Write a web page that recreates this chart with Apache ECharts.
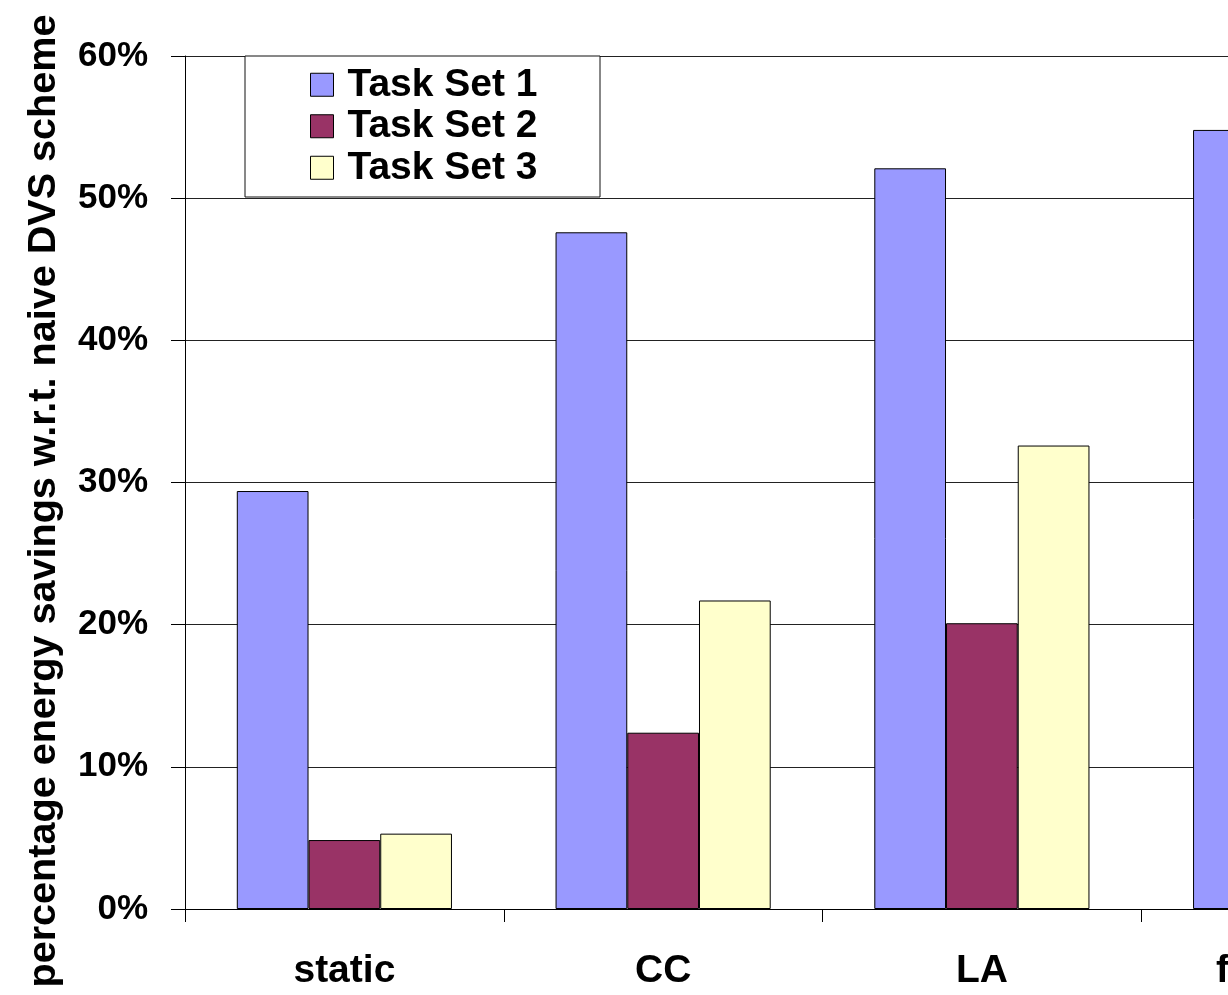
<!DOCTYPE html>
<html>
<head>
<meta charset="utf-8">
<title>Energy savings by DVS scheme</title>
<script src="https://cdn.jsdelivr.net/npm/echarts@6/dist/echarts.min.js"></script>
<style>
  html, body { margin: 0; padding: 0; background: #fff; }
  #chart { width: 1228px; height: 995px; }
</style>
</head>
<body>
<div id="chart"></div>
<script>
// Schemes compared against the naive DVS baseline
const schemes = ['static', 'CC', 'LA', 'feedback'];

// Percentage energy savings per task set (fourth scheme only partly in view)
const taskSet1 = [29.4, 47.6, 52.1, 54.8];
const taskSet2 = [4.85, 12.4, 20.1, null];
const taskSet3 = [5.3, 21.7, 32.6, null];

const seriesNames = ['Task Set 1', 'Task Set 2', 'Task Set 3'];
const seriesColors = ['#9999FF', '#993366', '#FFFFCC'];

const yTicks = { min: 0, max: 60, step: 10 };

const FONT = '"Liberation Sans", Arial, sans-serif';

const chart = echarts.init(document.getElementById('chart'), null, { renderer: 'canvas' });

const dataSets = [taskSet1, taskSet2, taskSet3];

chart.setOption({
  backgroundColor: '#ffffff',
  animation: false,
  textStyle: { fontFamily: FONT },
  grid: {
    left: 185,
    top: 56,
    width: 1275,
    height: 853,
    containLabel: false,
    outerBoundsMode: 'none'
  },
  // Legend frame
  graphic: [{
    type: 'rect',
    shape: { x: 245, y: 56, width: 355, height: 141 },
    style: { fill: '#ffffff', stroke: '#111', lineWidth: 1 },
    z: 10
  }],
  legend: {
    left: 310,
    top: 64,
    orient: 'vertical',
    padding: 0,
    itemGap: 0,
    itemWidth: 23,
    itemHeight: 23,
    z: 20,
    icon: 'rect',
    itemStyle: { borderColor: '#000', borderWidth: 1 },
    textStyle: {
      fontFamily: FONT,
      fontWeight: 'bold',
      fontSize: 39,
      color: '#000',
      lineHeight: 41.5,
      padding: [0, 0, 0, 9]
    },
    data: seriesNames
  },
  xAxis: {
    type: 'category',
    data: schemes,
    axisLine: { show: true, lineStyle: { color: '#000', width: 1 } },
    axisTick: { show: true, length: 13, lineStyle: { color: '#000' } },
    axisLabel: {
      interval: 0,
      fontFamily: FONT,
      fontWeight: 'bold',
      fontSize: 39,
      color: '#000',
      margin: 43
    },
    splitLine: { show: false }
  },
  yAxis: {
    type: 'value',
    min: yTicks.min,
    max: yTicks.max,
    interval: yTicks.step,
    name: 'percentage energy savings w.r.t. naive DVS scheme',
    nameLocation: 'middle',
    nameGap: 121,
    nameRotate: 90,
    nameTextStyle: {
      fontFamily: FONT,
      fontWeight: 'bold',
      fontSize: 39.6,
      color: '#000',
      padding: [0, 37, 0, 0]
    },
    axisLine: { show: true, lineStyle: { color: '#000', width: 1 } },
    axisTick: { show: true, length: 14, lineStyle: { color: '#000' } },
    axisLabel: {
      formatter: '{value}%',
      fontFamily: FONT,
      fontWeight: 'bold',
      fontSize: 35,
      color: '#000',
      margin: 37
    },
    splitLine: { show: true, lineStyle: { color: '#222', width: 1 } }
  },
  series: dataSets.map((d, i) => ({
    name: seriesNames[i],
    type: 'bar',
    data: d,
    barGap: '0%',
    barCategoryGap: '32.5%',
    itemStyle: {
      color: seriesColors[i],
      borderColor: '#000',
      borderWidth: 1
    }
  }))
});
</script>
</body>
</html>
